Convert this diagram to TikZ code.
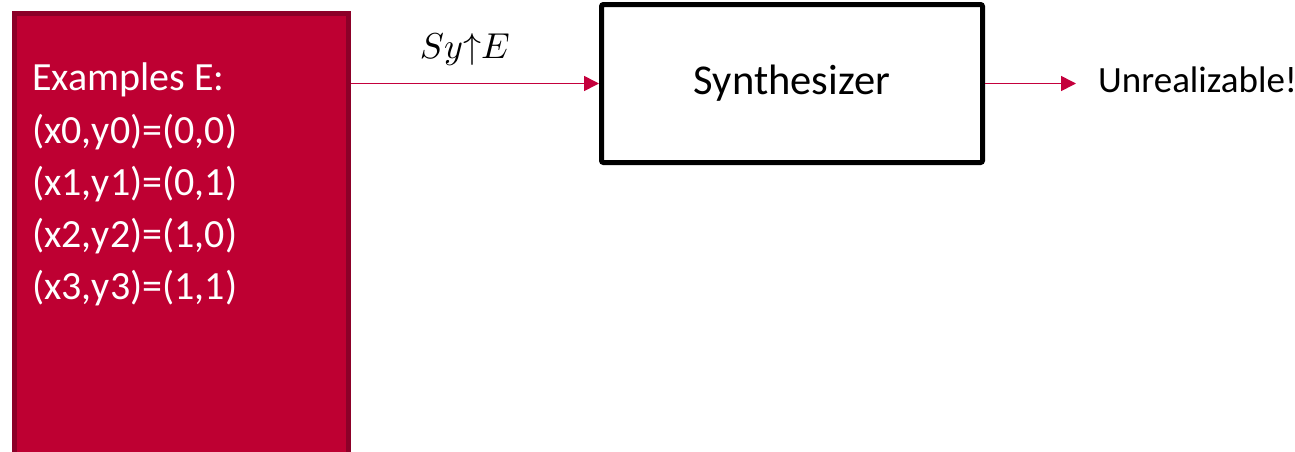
\documentclass[tikz,border=0pt]{standalone}
\usepackage{fontspec}
\setmainfont{Carlito}
\usetikzlibrary{arrows.meta}
\definecolor{exred}{HTML}{BE0032}
\definecolor{exdark}{HTML}{8C0028}
\definecolor{arrred}{HTML}{C4003C}
\begin{document}
\begin{tikzpicture}[x=1pt,y=-1pt,
  exbox/.style={draw=exdark, fill=exred, line width=5pt, rectangle, inner sep=0pt},
  synbox/.style={draw=black, line width=5pt, rectangle, rounded corners=2pt, inner sep=0pt,
    font=\fontsize{42.5}{50}\selectfont},
  arr/.style={draw=arrred, line width=1.6pt, -{Triangle[length=15pt,width=15pt]}}]
\useasboundingbox (0,0) rectangle (1295,451);
\begin{scope}
\clip (0,0) rectangle (1295,451);
\node[exbox, minimum width=334pt, minimum height=470pt, anchor=north west] (ex) at (11.5,10.5) {};
\end{scope}
\node[anchor=north west, inner sep=0pt, align=left, text=white,
  font=\fontsize{40}{52.2}\selectfont] (extext) at (32,63)
  {Examples E:\\(x0,y0)=(0,0)\\(x1,y1)=(0,1)\\(x2,y2)=(1,0)\\(x3,y3)=(1,1)};
\node[synbox, minimum width=381pt, minimum height=158pt] (syn) at (792,83.5) {Synthesizer};
\node[anchor=base west, inner ysep=0pt, inner xsep=0pt, font=\fontsize{37}{44}\selectfont] (unr) at (1098,92) {Unrealizable!};
\coordinate (unrin) at (1076,0);
\draw[arr] (ex.east |- syn.west) -- (syn.west)
  node[pos=0.46, anchor=base, yshift=25pt] (lab) {\scalebox{3.6}{$Sy{\uparrow}E$}};
\draw[arr] (syn.east) -- (syn.east -| unrin);
\end{tikzpicture}
\end{document}
